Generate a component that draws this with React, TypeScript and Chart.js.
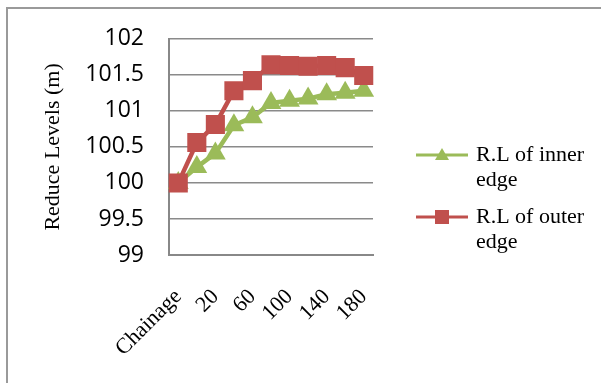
import React, { useEffect, useRef } from 'react';
import { Chart, registerables } from 'chart.js';

Chart.register(...registerables);

const CATEGORIES = ['Chainage', '0', '20', '40', '60', '80', '100', '120', '140', '160', '180'];
const INNER_EDGE = [100, 100.22, 100.41, 100.8, 100.91, 101.11, 101.14, 101.17, 101.23, 101.25, 101.28];
const OUTER_EDGE = [100, 100.56, 100.81, 101.28, 101.42, 101.64, 101.63, 101.62, 101.63, 101.6, 101.49];
const SERIES_NAMES = ['R.L of inner edge', 'R.L of outer edge'];
const Y_TITLE = 'Reduce Levels (m)';
const Y_MIN = 99;
const Y_MAX = 102;
const Y_STEP = 0.5;

const GREEN = '#9BBB59';
const RED = '#C0504D';
const SERIF = '"Liberation Serif", "Times New Roman", serif';
const SANS = '"Open Sans", "Noto Sans", sans-serif';

const W = 601;
const H = 383;

function wrapWords(ctx: CanvasRenderingContext2D, text: string, maxWidth: number): string[] {
  const words = text.split(' ');
  const lines: string[] = [];
  let cur = '';
  for (const w of words) {
    const test = cur ? cur + ' ' + w : w;
    if (cur && ctx.measureText(test).width > maxWidth) {
      lines.push(cur);
      cur = w;
    } else {
      cur = test;
    }
  }
  if (cur) lines.push(cur);
  return lines;
}

const frame = {
  id: 'frame',
  beforeDraw(chart: any) {
    const ctx: CanvasRenderingContext2D = chart.ctx;
    ctx.save();
    ctx.fillStyle = '#fff';
    ctx.fillRect(0, 0, chart.width, chart.height);
    ctx.strokeStyle = '#9a9a9a';
    ctx.lineWidth = 2;
    ctx.beginPath();
    ctx.moveTo(7, chart.height);
    ctx.lineTo(7, 8);
    ctx.lineTo(chart.width, 8);
    ctx.stroke();
    ctx.restore();
  },
};

const sideLegend = {
  id: 'sideLegend',
  afterDraw(chart: any) {
    const ctx: CanvasRenderingContext2D = chart.ctx;
    const area = chart.chartArea;
    const lineX0 = area.right + 43;
    const lineX1 = lineX0 + 52;
    const textX = lineX1 + 8;
    const itemYs = [155, 217];
    const lineH = 25;
    ctx.save();
    ctx.font = `22px ${SERIF}`;
    ctx.textBaseline = 'middle';
    ctx.textAlign = 'left';
    chart.data.datasets.forEach((ds: any, i: number) => {
      const y = itemYs[i];
      ctx.strokeStyle = ds.borderColor;
      ctx.lineWidth = 3;
      ctx.beginPath();
      ctx.moveTo(lineX0, y);
      ctx.lineTo(lineX1, y);
      ctx.stroke();
      const cx = (lineX0 + lineX1) / 2;
      ctx.fillStyle = ds.backgroundColor;
      ctx.beginPath();
      if (ds.pointStyle === 'triangle') {
        ctx.moveTo(cx, y - 7);
        ctx.lineTo(cx + 7, y + 5);
        ctx.lineTo(cx - 7, y + 5);
        ctx.closePath();
      } else {
        ctx.rect(cx - 7, y - 7, 14, 14);
      }
      ctx.fill();
      ctx.fillStyle = '#000';
      const lines = wrapWords(ctx, ds.label, 115);
      lines.forEach((ln, k) => ctx.fillText(ln, textX, y + k * lineH));
    });
    ctx.restore();
  },
};

export default function App() {
  const ref = useRef<HTMLCanvasElement | null>(null);

  useEffect(() => {
    if (!ref.current) return;
    const chart = new Chart(ref.current, {
      type: 'line',
      data: {
        labels: CATEGORIES,
        datasets: [
          {
            label: SERIES_NAMES[0],
            data: INNER_EDGE,
            borderColor: GREEN,
            backgroundColor: GREEN,
            borderWidth: 4.5,
            pointStyle: 'triangle',
            pointRadius: 12,
            pointBorderWidth: 0,
            pointBackgroundColor: GREEN,
            tension: 0,
            order: 1,
          },
          {
            label: SERIES_NAMES[1],
            data: OUTER_EDGE,
            borderColor: RED,
            backgroundColor: RED,
            borderWidth: 4.5,
            pointStyle: 'rect',
            pointRadius: 13.5,
            pointBorderWidth: 0,
            pointBackgroundColor: RED,
            tension: 0,
            order: 0,
          },
        ],
      },
      options: {
        responsive: false,
        animation: false,
        devicePixelRatio: 1,
        layout: { padding: { left: 33, right: 228, top: 36, bottom: 0 } },
        plugins: {
          legend: { display: false },
          tooltip: { enabled: false },
        },
        scales: {
          x: {
            offset: true,
            grid: { display: false, drawTicks: false },
            border: { display: true, color: '#888888', width: 2 },
            ticks: {
              autoSkip: false,
              minRotation: 45,
              maxRotation: 45,
              padding: 29,
              color: '#000',
              font: { family: SERIF, size: 22 },
              callback: (_v: any, i: number) => (i % 2 === 0 ? CATEGORIES[i] : ''),
            },
            afterFit: (s: any) => {
              s.height = 128;
            },
          },
          y: {
            min: Y_MIN,
            max: Y_MAX,
            grid: { color: '#8a8a8a', lineWidth: 1.5, drawTicks: false },
            border: { display: true, color: '#888888', width: 2 },
            ticks: {
              stepSize: Y_STEP,
              padding: 25,
              color: '#000',
              font: { family: SANS, size: 23 },
              callback: (v: any) => String(Number(v)),
            },
            title: {
              display: true,
              text: Y_TITLE,
              color: '#000',
              font: { family: SERIF, size: 22 },
              padding: { top: 7, bottom: 4 },
            },
            afterFit: (s: any) => {
              s.width = 136;
            },
          },
        },
      },
      plugins: [frame, sideLegend],
    });
    return () => chart.destroy();
  }, []);

  return (
    <div style={{ position: 'fixed', left: 0, top: 0, width: W, height: H, overflow: 'hidden', background: '#fff' }}>
      <canvas ref={ref} width={W} height={H} style={{ display: 'block', width: W, height: H }} />
    </div>
  );
}
